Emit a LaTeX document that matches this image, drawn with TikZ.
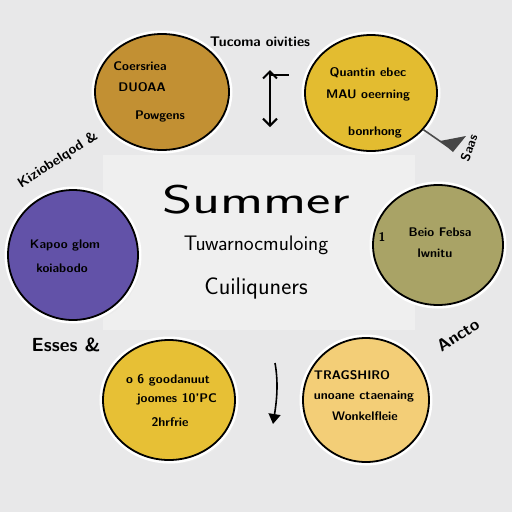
\documentclass[tikz,border=0pt]{standalone}
\usetikzlibrary{arrows.meta,shapes.geometric}
\definecolor{bgc}{HTML}{E8E8E9}
\definecolor{panelc}{HTML}{EFEFEF}
\definecolor{ochre}{HTML}{C29033}
\definecolor{gold}{HTML}{E3BC30}
\definecolor{violet}{HTML}{6252A8}
\definecolor{olive}{HTML}{A9A366}
\definecolor{sun}{HTML}{E7C035}
\definecolor{sand}{HTML}{F3CE77}
\begin{document}
\begin{tikzpicture}[x=1pt,y=-1pt,>=Stealth,font=\sffamily]
\tikzstyle{c}=[ellipse,draw,line width=1.8pt,preaction={draw=white,line width=7pt},inner sep=0pt]
\tikzstyle{sh}=[ellipse,fill=black!8,inner sep=0pt]
\tikzstyle{t}=[font=\sffamily\bfseries\fontsize{12.5}{15}\selectfont,inner sep=0pt]
\tikzstyle{lbl}=[font=\sffamily\bfseries\fontsize{14}{17}\selectfont,inner sep=0pt]
\fill[bgc] (0,0) rectangle (512,512);
\fill[panelc] (103,155) rectangle (415,330);
\foreach \n/\x/\y/\w/\h/\c in {tl/162/92/134/116/ochre,tr/371/93/132/116/gold,lf/73/255/130/130/violet,rt/438/245/130/120/olive,bl/169/400/132/120/sun,br/366/400/126/124/sand} {
 \node[sh,minimum width=\w pt,minimum height=\h pt] (\n s) at (\x+3,\y+4) {};
 \node[c,fill=\c,minimum width=\w pt,minimum height=\h pt] (\n) at (\x,\y) {};
}
\foreach \n/\x/\y/\s in {a1/140/66/Coersriea,a2/142/87/DUOAA,a3/160/116/Powgens,
 b1/368/73/Quantin ebec,b2/368/95/MAU oeerning,b3/375/132/bonrhong,
 c1/65/245/Kapoo glom,c2/62/268/koiabodo,
 d0/382/237/1,d1/440/232/Beio Febsa,d2/435/253/lwnitu,
 e1/168/380/o 6 goodanuut,e2/177/399/joomes 10'PC,e3/170/422/2hrfrie,
 f1/352/375/TRAGSHIRO,f2/364/397/unoane ctaenaing,f3/365/416/Wonkelfleie} {
 \node[t] (\n) at (\x,\y) {\s};
}
\node[inner sep=0pt] (title) at (256,200) {\scalebox{1.45}[1]{\fontsize{40}{42}\selectfont Summer}};
\node[inner sep=0pt,font=\sffamily\fontsize{21}{23}\selectfont] (sub1) at (256,245) {Tuwarnocmuloing};
\node[inner sep=0pt,font=\sffamily\fontsize{24}{26}\selectfont] (sub2) at (256,288) {Cuiliquners};
\node[lbl] (top) at (260,42) {Tucoma oivities};
\node[lbl,rotate=33] (lk) at (58,160) {Kiziobelqod \&};
\node[lbl,font=\sffamily\bfseries\fontsize{19}{21}\selectfont] (le) at (66,345) {Esses \&};
\node[lbl,rotate=33,font=\sffamily\bfseries\fontsize{17}{19}\selectfont] (ra) at (458,335) {Ancto};
\node[lbl,rotate=70,font=\sffamily\bfseries\fontsize{13}{15}\selectfont] (rs) at (469,148) {Saas};
\coordinate (u1) at (270,70); \coordinate (u2) at (270,127);
\coordinate (u3) at (289,75);
\draw[{Straight Barb[length=7pt,width=14pt]}-{Straight Barb[length=7pt,width=14pt]},line width=2pt] (u1) -- (u2);
\draw[line width=1.8pt] (u1|-u3) -- (u3);
\coordinate (d1a) at (275,363); \coordinate (d1b) at (273,424);
\draw[-{Triangle[length=10pt,width=12pt]},line width=1.6pt] (d1a) .. controls (279,385) and (276,405) .. (d1b);
\coordinate (tp) at (447,146);
\draw[line width=1.6pt,gray!60!black] (tr.-35) -- (tp);
\fill[gray!55!black] (440,141) -- (466,136) -- (453,152) -- cycle;
\end{tikzpicture}
\end{document}
